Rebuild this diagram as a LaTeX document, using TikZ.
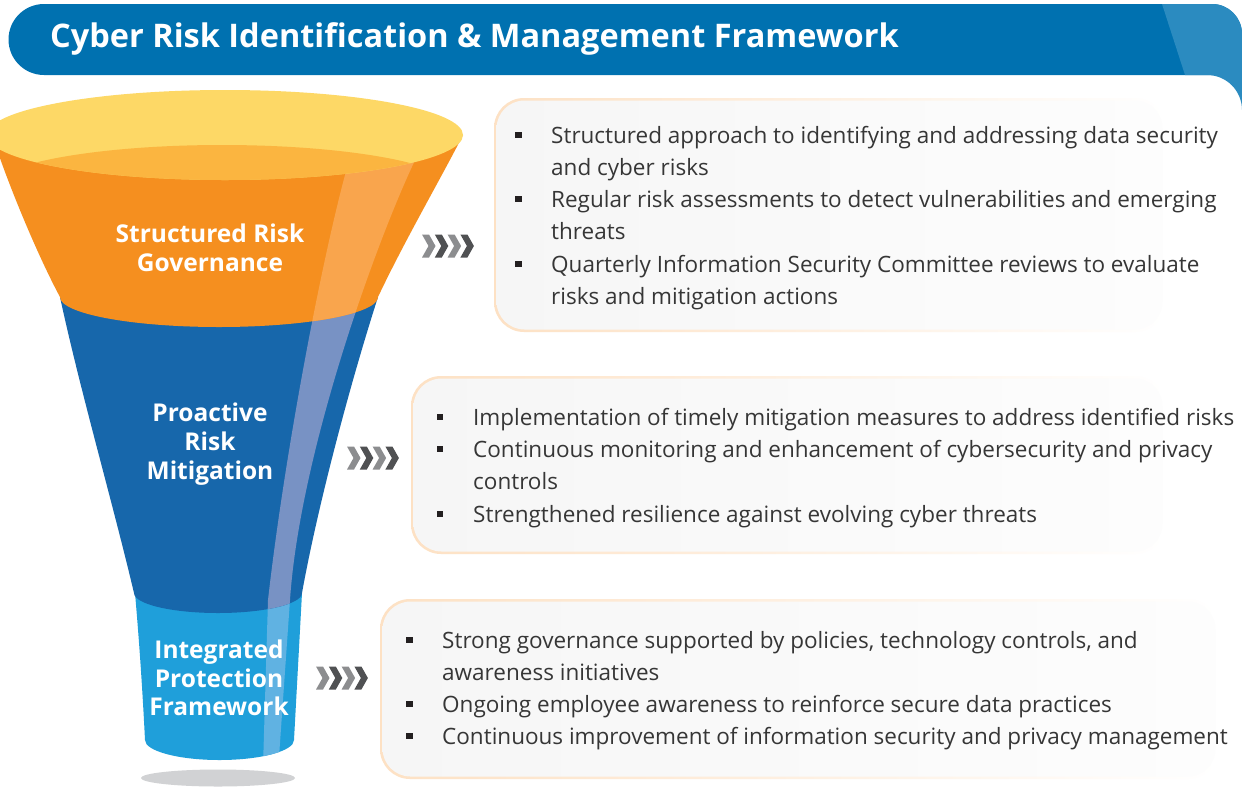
\documentclass[tikz,border=0pt]{standalone}
\usepackage{fontspec}
\setmainfont{Open Sans}
\definecolor{hdrblue}{HTML}{0071B0}
\definecolor{hdrlight}{HTML}{2B8BC0}
\definecolor{rimyellow}{HTML}{FDD866}
\definecolor{innerorange}{HTML}{FBB540}
\definecolor{funorange}{HTML}{F58F1F}
\definecolor{stripeorange}{HTML}{F9A54D}
\definecolor{fundark}{HTML}{1767AB}
\definecolor{stripedark}{HTML}{7892C4}
\definecolor{funlight}{HTML}{1F9FDA}
\definecolor{stripelight}{HTML}{60B2E2}
\definecolor{shadowgray}{HTML}{D1D2D4}
\definecolor{chevL}{HTML}{8C8D8F}
\definecolor{chevD}{HTML}{505153}
\definecolor{boxpeach}{HTML}{FDE1C4}
\definecolor{boxfill}{HTML}{F6F6F6}
\definecolor{boxfillR}{HTML}{FDFDFD}
\definecolor{txtgray}{HTML}{363636}
\definecolor{bulletblk}{HTML}{231F20}

\tikzset{
  bodytext/.style={font=\fontsize{22.5}{26}\selectfont, text=txtgray, anchor=base west, inner sep=0pt},
  lbltext/.style={font=\bfseries\fontsize{24.5}{28}\selectfont, text=white, anchor=base, inner sep=0pt},
  titletext/.style={font=\bfseries\fontsize{32.5}{38}\selectfont, text=white, anchor=base west, inner sep=0pt},
  bulletsq/.style={rectangle, fill=bulletblk, minimum size=6.5pt, inner sep=0pt, draw=none},
}

% a row of four chevrons, left edge #1, centre line #2
\newcommand{\chevrowat}[2]{%
  \foreach \k/\c in {0/chevL,1/chevD,2/chevL,3/chevD}{%
    \begin{scope}[shift={(#1+\k*12.8,#2)}]
      \fill[\c] (0,-11.5) -- (7,-11.5) -- (13.5,0) -- (7,11.5) -- (0,11.5) -- (6.5,0) -- cycle;
    \end{scope}
  }%
}

% rounded text panel with a soft peach rim, fading to the right
\newcommand{\softpanel}[4]{%
  \shade[left color=boxpeach, right color=white, rounded corners=30pt] (#1,#2) rectangle (#3,#4);
  \shade[left color=boxfill, right color=boxfillR, rounded corners=28pt] (#1+2.5,#2+2.5) rectangle (#3-2.5,#4-2.5);
}

\begin{document}
\begin{tikzpicture}[x=1pt,y=-1pt]
\useasboundingbox (0,0) rectangle (1242,793);
\clip (0,0) rectangle (1242,793);
\fill[white] (0,0) rectangle (1242,793);

% ---------- header band ----------
\fill[hdrblue] (44,75) arc[start angle=270, end angle=90, radius=35.5pt]
  -- (1212,4) arc[start angle=90, end angle=0, radius=30pt] -- (1242,75) -- cycle;
\fill[hdrlight] (1162,4) -- (1212,4) arc[start angle=90, end angle=0, radius=30pt]
  -- (1242,110) arc[start angle=0, end angle=90, radius=35pt] -- (1185,75) -- cycle;
\node[titletext] (title) at (50,47) {Cyber Risk Identification \& Management Framework};

% ---------- text panels ----------
\softpanel{494}{98}{1165}{332}
\softpanel{411}{376}{1165}{554}
\softpanel{380}{599}{1218}{779}

% ---------- funnel ----------
\def\bandpath{(352,150) .. controls (325,240) and (285,450) .. (268,600) -- (262,800) -- (276,800) -- (290,600) .. controls (300,450) and (380,230) .. (420,150) -- cycle}

% floor shadow
\fill[shadowgray] (218,778) ellipse[x radius=77pt, y radius=8.5pt];

% lower tier
\def\tierlow{(135,593) .. controls (140,650) and (143,700) .. (145,740) arc[start angle=180, end angle=360, x radius=74.5pt, y radius=20pt] -- (302,593) -- cycle}
\fill[funlight] \tierlow;
\begin{scope}
  \clip \tierlow;
  \fill[stripelight] \bandpath;
\end{scope}

% middle tier
\def\tiermid{(60,297) .. controls (80,390) and (112,500) .. (134,593) arc[start angle=180, end angle=360, x radius=84pt, y radius=20pt] .. controls (315,520) and (345,400) .. (378,297) -- cycle}
\fill[fundark] \tiermid;
\begin{scope}
  \clip \tiermid;
  \fill[stripedark] \bandpath;
\end{scope}

% upper tier
\def\tiertop{(-8,135) .. controls (10,190) and (40,260) .. (60,297) arc[start angle=180, end angle=360, x radius=159pt, y radius=30pt] .. controls (405,240) and (440,180) .. (463,135) -- cycle}
\fill[funorange] \tiertop;
\begin{scope}
  \clip \tiertop;
  \fill[stripeorange] \bandpath;
\end{scope}

% open rim
\fill[rimyellow] (225,135) ellipse[x radius=238pt, y radius=45pt];
\begin{scope}
  \clip (225,135) ellipse[x radius=238pt, y radius=45pt];
  \fill[innerorange] (222,190) ellipse[x radius=235pt, y radius=45pt];
\end{scope}

% tier labels
\node[lbltext] (t1a) at (210,242) {Structured Risk};
\node[lbltext] (t1b) at (210,271) {Governance};
\node[lbltext] (t2a) at (210,421) {Proactive};
\node[lbltext] (t2b) at (210,450) {Risk};
\node[lbltext] (t2c) at (210,479) {Mitigation};
\node[lbltext] (t3a) at (219,658) {Integrated};
\node[lbltext] (t3b) at (219,687) {Protection};
\node[lbltext] (t3c) at (219,715) {Framework};

% ---------- chevrons ----------
\chevrowat{422}{246}
\chevrowat{347}{458}
\chevrowat{316}{678}

% ---------- panel 1 ----------
\node[bulletsq] (p1b1) at (518.5,135) {};
\node[bodytext] (p1l1) at (551,143) {Structured approach to identifying and addressing data security};
\node[bodytext] (p1l2) at (551,175) {and cyber risks};
\node[bulletsq] (p1b2) at (518.5,199) {};
\node[bodytext] (p1l3) at (551,207) {Regular risk assessments to detect vulnerabilities and emerging};
\node[bodytext] (p1l4) at (551,239) {threats};
\node[bulletsq] (p1b3) at (518.5,264) {};
\node[bodytext] (p1l5) at (551,272) {Quarterly Information Security Committee reviews to evaluate};
\node[bodytext] (p1l6) at (551,304) {risks and mitigation actions};

% ---------- panel 2 ----------
\node[bulletsq] (p2b1) at (440,417) {};
\node[bodytext] (p2l1) at (473,425) {Implementation of timely mitigation measures to address identified risks};
\node[bulletsq] (p2b2) at (440,449) {};
\node[bodytext] (p2l2) at (473,457) {Continuous monitoring and enhancement of cybersecurity and privacy};
\node[bodytext] (p2l3) at (473,489) {controls};
\node[bulletsq] (p2b3) at (440,514) {};
\node[bodytext] (p2l4) at (473,522) {Strengthened resilience against evolving cyber threats};

% ---------- panel 3 ----------
\node[bulletsq] (p3b1) at (409.5,640) {};
\node[bodytext] (p3l1) at (442,648) {Strong governance supported by policies, technology controls, and};
\node[bodytext] (p3l2) at (442,680) {awareness initiatives};
\node[bulletsq] (p3b2) at (409.5,704) {};
\node[bodytext] (p3l3) at (442,712) {Ongoing employee awareness to reinforce secure data practices};
\node[bulletsq] (p3b3) at (409.5,736) {};
\node[bodytext] (p3l4) at (442,744) {Continuous improvement of information security and privacy management};
\end{tikzpicture}
\end{document}
